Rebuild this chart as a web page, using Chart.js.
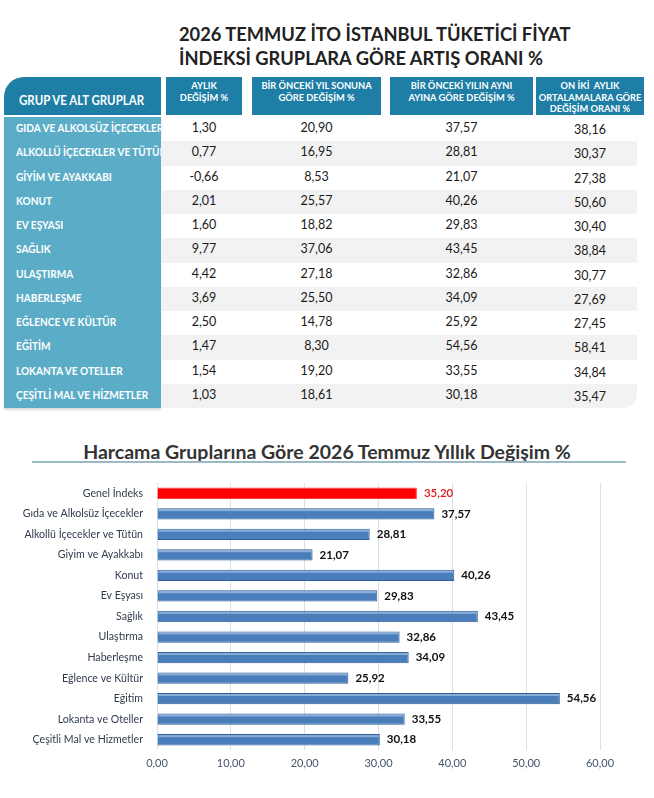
<!DOCTYPE html>
<html lang="tr">
<head>
<meta charset="utf-8">
<title>2026 Temmuz İTO İstanbul Tüketici Fiyat İndeksi</title>
<script src="https://cdn.jsdelivr.net/npm/chart.js@4.4.1/dist/chart.umd.min.js"></script>
<style>
  body { margin: 0; background: #fff; font-family: Lato, "Open Sans", sans-serif; }
  #page { position: relative; width: 654px; height: 798px; overflow: hidden; }
  #title { position: absolute; left: 179px; top: 22px; font-weight: 700; font-size: 18.3px; line-height: 24px; color: #222; white-space: nowrap; }
  .hd { position: absolute; top: 77px; height: 38px; background: #1e7ea6; color: #fff; font-weight: 700;
        font-size: 9.3px; line-height: 11.5px; text-align: center; padding-top: 3px; box-sizing: border-box; white-space: pre; }
  .hd.first { border-top-left-radius: 20px; font-size: 13.2px; line-height: 16px; text-align: left; padding: 15px 0 0 15px; }
  .hd.first span { display: inline-block; transform: scaleX(0.87); transform-origin: left center; }
  #grpcol { position: absolute; left: 4px; top: 117px; width: 157px; height: 291px; background: #5badc7;
            box-shadow: 0 2px 2px rgba(0,0,0,0.15); }
  .band { position: absolute; left: 161px; width: 476px; background: #f2f2f2; }
  .grp { position: absolute; left: 16px; width: 145px; color: #fff; font-weight: 700; font-size: 12px;
         white-space: nowrap; overflow: hidden; }
  .grp span { display: inline-block; transform: scaleX(0.84); transform-origin: left center; }
  .num { position: absolute; text-align: center; font-size: 12.5px; color: #1a1a1a; }
  #ctitle { position: absolute; left: 0; width: 654px; top: 441px; text-align: center; font-weight: 700; font-size: 19.5px;
            line-height: 22px; color: #333; }
  #cline { position: absolute; left: 32px; top: 461px; width: 594px; height: 2px; background: #9db9c7; }
  #wrap { position: absolute; left: 0; top: 470px; width: 654px; height: 320px; }
</style>
</head>
<body>
<div id="page">
  <div id="title">2026 TEMMUZ İTO İSTANBUL TÜKETİCİ FİYAT<br>İNDEKSİ GRUPLARA GÖRE ARTIŞ ORANI %</div>
  <div id="table"></div>
  <div id="ctitle">Harcama Gruplarına Göre 2026 Temmuz Yıllık Değişim %</div>
  <div id="cline"></div>
  <div id="wrap"><canvas id="js-chart-annual"></canvas></div>
</div>
<script>
// Table data
const tableHeaders = [
  'GRUP VE ALT GRUPLAR',
  'AYLIK\nDEĞİŞİM %',
  'BİR ÖNCEKİ YIL SONUNA\nGÖRE DEĞİŞİM %',
  'BİR ÖNCEKİ YILIN AYNI\nAYINA GÖRE DEĞİŞİM %',
  'ON İKİ  AYLIK\nORTALAMALARA GÖRE\nDEĞİŞİM ORANI %'
];
const groups = [
  'GIDA VE ALKOLSÜZ İÇECEKLER', 'ALKOLLÜ İÇECEKLER VE TÜTÜN', 'GİYİM VE AYAKKABI', 'KONUT',
  'EV EŞYASI', 'SAĞLIK', 'ULAŞTIRMA', 'HABERLEŞME', 'EĞLENCE VE KÜLTÜR', 'EĞİTİM',
  'LOKANTA VE OTELLER', 'ÇEŞİTLİ MAL VE HİZMETLER'
];
const monthlyChange = [1.30, 0.77, -0.66, 2.01, 1.60, 9.77, 4.42, 3.69, 2.50, 1.47, 1.54, 1.03];
const ytdChange     = [20.90, 16.95, 8.53, 25.57, 18.82, 37.06, 27.18, 25.50, 14.78, 8.30, 19.20, 18.61];
const annualChange  = [37.57, 28.81, 21.07, 40.26, 29.83, 43.45, 32.86, 34.09, 25.92, 54.56, 33.55, 30.18];
const avg12Change   = [38.16, 30.37, 27.38, 50.60, 30.40, 38.84, 30.77, 27.69, 27.45, 58.41, 34.84, 35.47];

// Chart data
const chartCategories = [
  'Genel İndeks', 'Gıda ve Alkolsüz İçecekler', 'Alkollü İçecekler ve Tütün', 'Giyim ve Ayakkabı',
  'Konut', 'Ev Eşyası', 'Sağlık', 'Ulaştırma', 'Haberleşme', 'Eğlence ve Kültür', 'Eğitim',
  'Lokanta ve Oteller', 'Çeşitli Mal ve Hizmetler'
];
const chartValues = [35.20, 37.57, 28.81, 21.07, 40.26, 29.83, 43.45, 32.86, 34.09, 25.92, 54.56, 33.55, 30.18];
const xTickLabels = ['0,00', '10,00', '20,00', '30,00', '40,00', '50,00', '60,00'];

const fmt = v => v.toFixed(2).replace('.', ',');

// Build table
const colLeft = [4, 166, 252, 390, 536];
const colWidth = [157, 76, 129, 143, 108];
const rowTop = 117, rowH = 24.25;
let html = '';
tableHeaders.forEach((h, c) => {
  const txt = c === 0 ? `<span>${h}</span>` : h;
  html += `<div class="hd${c === 0 ? ' first' : ''}" style="left:${colLeft[c]}px;width:${colWidth[c]}px">${txt}</div>`;
});
html += '<div id="grpcol"></div>';
const cols = [monthlyChange, ytdChange, annualChange, avg12Change];
groups.forEach((g, r) => {
  const top = rowTop + r * rowH;
  if (r % 2 === 1) {
    const rad = r === groups.length - 1 ? 'border-bottom-right-radius:14px;' : '';
    html += `<div class="band" style="top:${top}px;height:${rowH}px;${rad}"></div>`;
  }
  html += `<div class="grp" style="top:${top + 3}px;line-height:16px"><span>${g}</span></div>`;
  cols.forEach((arr, c) => {
    const dy = c === 3 ? 5 : 3;
    html += `<div class="num" style="left:${colLeft[c + 1]}px;width:${colWidth[c + 1]}px;top:${top + dy}px;line-height:16px">${fmt(arr[r])}</div>`;
  });
});
document.getElementById('table').innerHTML = html;

// Value labels + bar highlight
const barDecor = {
  id: 'barDecor',
  afterDatasetsDraw(chart) {
    const ctx = chart.ctx;
    const meta = chart.getDatasetMeta(0);
    ctx.save();
    meta.data.forEach((bar, i) => {
      const p = bar.getProps(['x', 'y', 'base', 'height'], true);
      if (i > 0) {
        ctx.fillStyle = 'rgba(190, 212, 240, 0.55)';
        ctx.fillRect(p.base + 1, p.y - p.height / 2 + 1, p.x - p.base - 2, 2);
      }
      ctx.font = (i === 0 ? '600 ' : 'bold ') + '11.5px Lato';
      ctx.textBaseline = 'middle';
      ctx.fillStyle = i === 0 ? '#e0161b' : '#111';
      ctx.fillText(fmt(chartValues[i]), p.x + 7, p.y);
    });
    ctx.restore();
  }
};

Chart.defaults.font.family = 'Lato';
Chart.defaults.animation = false;

new Chart(document.getElementById('js-chart-annual'), {
  type: 'bar',
  data: {
    labels: chartCategories,
    datasets: [{
      data: chartValues,
      backgroundColor: chartValues.map((v, i) => i === 0 ? '#ff0000' : '#4a7ebb'),
      borderColor: chartValues.map((v, i) => i === 0 ? '#ff3a3a' : '#2f5f96'),
      borderWidth: 1,
      categoryPercentage: 1,
      barPercentage: 0.55
    }]
  },
  options: {
    indexAxis: 'y',
    responsive: true,
    maintainAspectRatio: false,
    layout: { padding: { left: 0, right: 54, top: 13, bottom: 0 } },
    plugins: { legend: { display: false }, tooltip: { enabled: false } },
    scales: {
      x: {
        min: 0, max: 60,
        ticks: { stepSize: 10, padding: 7, color: '#44546a', font: { size: 11 },
                 callback: (v, i) => xTickLabels[i] },
        grid: { color: '#d9e0e8', drawTicks: false },
        border: { display: false },
        afterFit: s => { s.height = 40; }
      },
      y: {
        ticks: { padding: 6, color: '#2f3b4d', font: { size: 10.6 } },
        grid: { display: false },
        border: { display: false },
        afterFit: s => { s.width = 157; }
      }
    }
  },
  plugins: [barDecor]
});
</script>
</body>
</html>
